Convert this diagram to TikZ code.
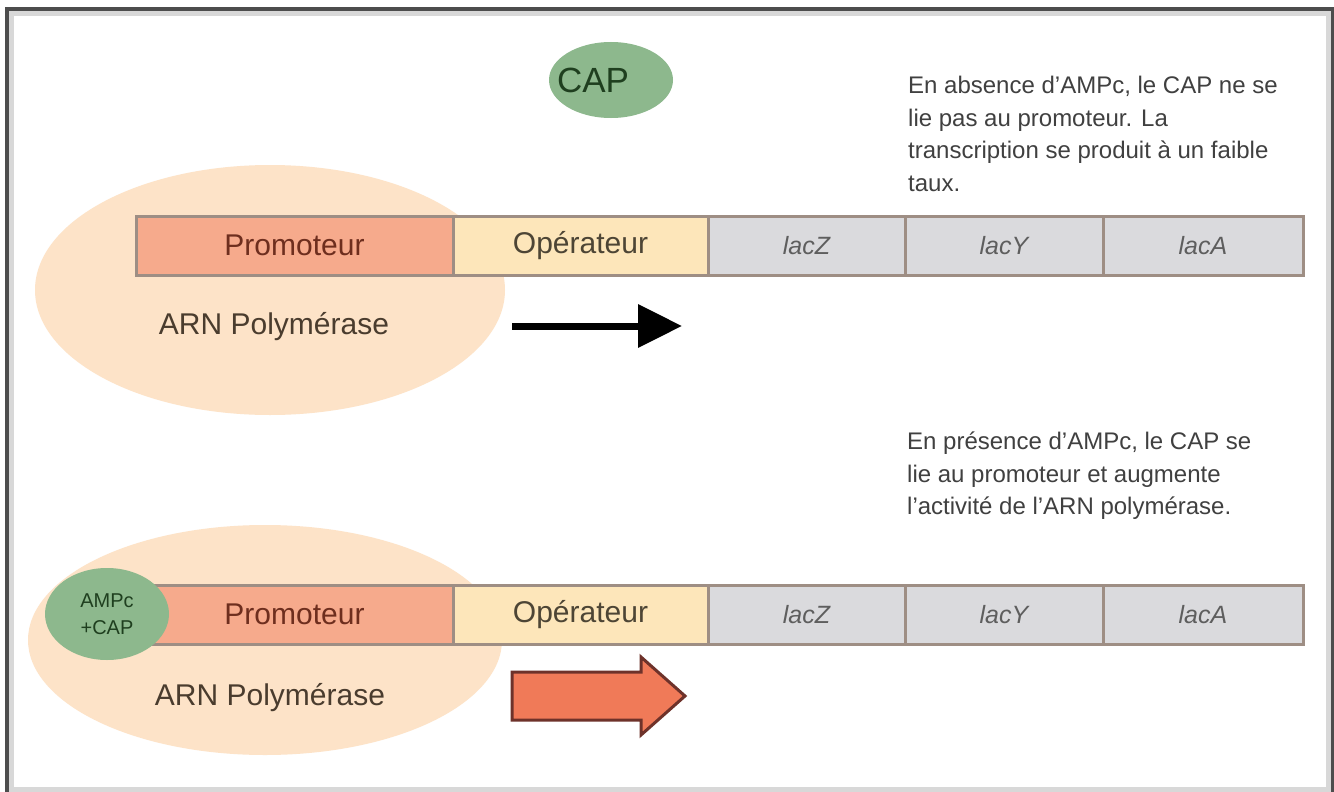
\documentclass[tikz,border=0pt]{standalone}
\usepackage{fontspec}
\setmainfont{Liberation Sans}
\usetikzlibrary{arrows.meta, shapes.geometric}
\definecolor{peach}{HTML}{FDE3C8}
\definecolor{promo}{HTML}{F6AA8C}
\definecolor{oper}{HTML}{FDE6BA}
\definecolor{lacfill}{HTML}{DADADD}
\definecolor{barline}{HTML}{9E8E84}
\definecolor{capgreen}{HTML}{8DB88D}
\definecolor{capdark}{HTML}{1F3F1F}
\definecolor{protext}{HTML}{6E2E1E}
\definecolor{optext}{HTML}{4D4535}
\definecolor{lacgray}{HTML}{5E5E5E}
\definecolor{poltext}{HTML}{4A3C2E}
\definecolor{notegray}{HTML}{404040}
\definecolor{orng}{HTML}{F07A58}
\definecolor{orngline}{HTML}{6E322A}
\definecolor{framedark}{HTML}{4D4D4D}
\definecolor{framelight}{HTML}{D8D8D8}

\begin{document}
\begin{tikzpicture}[x=1pt, y=-1pt,
    every node/.style={font=\fontsize{30}{36}\selectfont},
    seg/.style={draw=barline, line width=3pt, minimum height=59pt, inner sep=0pt, outer sep=0pt, anchor=west},
    protxt/.style={text=protext},
    optxt/.style={text=optext},
    lactxt/.style={font=\fontsize{25}{30}\selectfont\itshape, text=lacgray},
    pol/.style={ellipse, fill=peach, inner sep=0pt},
    poltxt/.style={text=poltext},
    capblob/.style={ellipse, fill=capgreen, inner sep=0pt},
    note/.style={font=\fontsize{24}{32.5}\selectfont, text=notegray, align=left, inner sep=0pt, anchor=north west},
]
\useasboundingbox (0,0) rectangle (1334,792);
\fill[white] (0,0) rectangle (1334,792);

% frame
\draw[framelight, line width=5pt] (11.5,789.5) -- (11.5,13.5) -- (1328.5,13.5) -- (1328.5,789.5) -- cycle;
\draw[framedark, line width=4pt] (7,792) -- (7,9) -- (1332.5,9) -- (1332.5,792);

% RNA polymerase, top and bottom
\node[pol, minimum width=470pt, minimum height=250pt] (pol1) at (270,290) {};
\node[pol, minimum width=474pt, minimum height=230pt] (pol2) at (265,640) {};

% the two operons
\foreach \row/\yy in {t/245.5, b/614.5}{
    \foreach \nm/\xa/\xb/\col/\sty/\txt in {pro/136/453/promo/protxt/Promoteur,
        op/453/708/oper/optxt/Opérateur, z/708/905/lacfill/lactxt/lacZ,
        y/905/1103/lacfill/lactxt/lacY, a/1103/1303/lacfill/lactxt/lacA}{
        \node[seg, fill=\col, \sty, minimum width=(\xb-\xa)*1pt] (\row\nm) at (\xa,\yy) {\txt};
    }
}

% CAP free, and CAP bound with AMPc
\node[capblob, minimum width=124pt, minimum height=76pt] (capfree) at (611,80) {};
\node[text=capdark, font=\fontsize{35}{40}\selectfont] (caplab) at (593,80) {CAP};
\node[capblob, minimum width=124pt, minimum height=92pt, text=capdark, align=center,
    font=\fontsize{20}{27}\selectfont] (capbound) at (107,614) {AMPc\\+CAP};

\node[poltxt] (pol1lab) at (274,327) {ARN Polymérase};
\node[poltxt] (pol2lab) at (270,698) {ARN Polymérase};

% transcription: weak, then strong
\coordinate (weaks) at (512,326);
\coordinate (weake) at (682,326);
\draw[black, line width=7pt, -{Triangle[length=44pt, width=42pt]}] (weaks) -- (weake);
\draw[fill=orng, draw=orngline, line width=3pt]
    (512,672) -- (641,672) -- (641,657) -- (685,696) -- (641,735) -- (641,720) -- (512,720) -- cycle;

\node[note] (absnote) at (908,76)
    {En absence d'AMPc, le CAP ne se\\lie pas au promoteur. La\\transcription se produit à un faible\\taux.};
\node[note] (presnote) at (907,432)
    {En présence d'AMPc, le CAP se\\lie au promoteur et augmente\\l'activité de l'ARN polymérase.};
\end{tikzpicture}
\end{document}
